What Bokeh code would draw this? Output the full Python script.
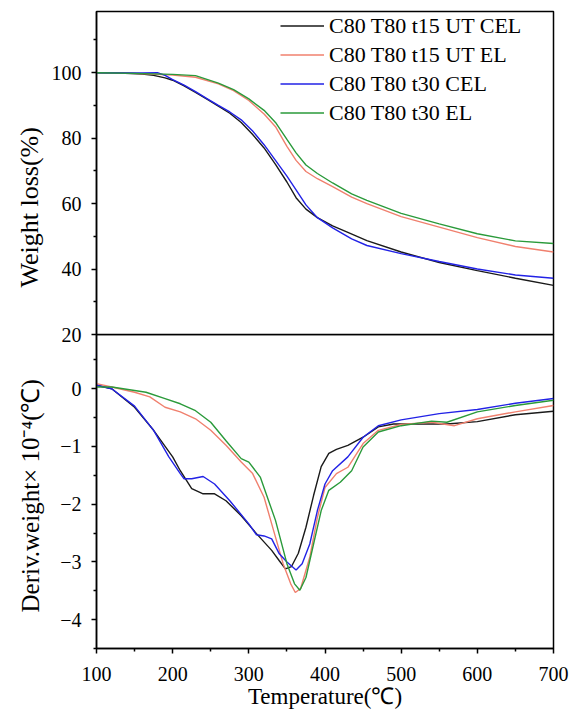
from bokeh.plotting import figure
from bokeh.layouts import column
from bokeh.models import FixedTicker, Title, Range1d
from bokeh.embed import file_html
from bokeh.resources import INLINE

# ---------------- data ----------------
series_names = ["C80 T80 t15 UT CEL", "C80 T80 t15 UT EL", "C80 T80 t30 CEL", "C80 T80 t30 EL"]
series_colors = ["#1a1a1a", "#f0806e", "#2222e6", "#2a9a3a"]

# TG curves: weight loss (%) vs temperature (C)
tg_black_T = [100, 130, 160, 175, 190, 200, 215, 230, 245, 260, 275, 290, 305, 320, 335, 350, 362, 375, 390, 410, 430, 455, 500, 550, 600, 650, 700]
tg_black_W = [100, 99.9, 99.6, 99.2, 98.4, 97.7, 96.0, 94.0, 91.9, 89.8, 87.6, 84.8, 81.1, 77.0, 72.0, 66.6, 61.8, 58.3, 55.7, 53.2, 51.2, 48.7, 45.2, 42.0, 39.5, 37.2, 35.0]

tg_red_T = [100, 150, 200, 230, 260, 280, 300, 320, 335, 350, 362, 375, 390, 410, 435, 455, 500, 550, 600, 650, 700]
tg_red_W = [100, 99.8, 99.3, 98.6, 96.6, 94.5, 91.5, 87.4, 83.5, 77.5, 73.2, 69.8, 67.6, 65.2, 62.0, 60.0, 56.0, 52.8, 49.6, 46.9, 45.2]

tg_blue_T = [100, 130, 160, 180, 190, 200, 215, 230, 245, 260, 275, 290, 305, 320, 335, 350, 362, 375, 390, 410, 435, 455, 500, 550, 600, 650, 700]
tg_blue_W = [100, 99.9, 99.9, 100, 99.2, 97.9, 96.2, 94.2, 92.1, 90.0, 88.0, 85.6, 82.2, 78.0, 73.2, 68.4, 64.2, 59.6, 55.7, 52.6, 49.2, 47.2, 44.7, 42.3, 40.0, 38.2, 37.2]

tg_green_T = [100, 150, 200, 230, 260, 280, 300, 320, 335, 350, 362, 375, 390, 410, 435, 455, 500, 550, 600, 650, 700]
tg_green_W = [100, 99.8, 99.5, 99.1, 96.8, 94.8, 92.0, 88.5, 84.8, 79.6, 75.5, 71.8, 69.2, 66.3, 63.0, 61.0, 57.0, 53.8, 50.8, 48.6, 47.8]

# DTG curves: deriv. weight (x1e-4 / C) vs temperature (C)
dtg_black_T = [100, 120, 150, 175, 200, 210, 225, 240, 255, 270, 290, 310, 330, 340, 348, 356, 365, 375, 385, 395, 405, 415, 430, 450, 470, 490, 520, 560, 600, 650, 700]
dtg_black_V = [0.06, 0.0, -0.32, -0.72, -1.18, -1.42, -1.73, -1.82, -1.82, -1.94, -2.2, -2.51, -2.8, -2.98, -3.12, -3.08, -2.85, -2.4, -1.85, -1.35, -1.12, -1.05, -0.98, -0.84, -0.66, -0.61, -0.61, -0.61, -0.57, -0.45, -0.39]

dtg_red_T = [100, 120, 150, 170, 190, 210, 230, 250, 270, 290, 305, 320, 335, 345, 355, 361, 368, 380, 390, 400, 415, 430, 450, 470, 500, 540, 570, 600, 650, 700]
dtg_red_V = [0.09, 0.03, -0.06, -0.14, -0.32, -0.4, -0.52, -0.72, -0.98, -1.27, -1.47, -1.88, -2.57, -3.03, -3.38, -3.53, -3.46, -2.92, -2.23, -1.71, -1.47, -1.36, -0.95, -0.72, -0.62, -0.58, -0.64, -0.52, -0.4, -0.29]

dtg_blue_T = [100, 120, 150, 175, 195, 210, 215, 225, 240, 255, 275, 300, 310, 320, 330, 340, 350, 362, 370, 380, 390, 400, 410, 430, 450, 470, 500, 550, 600, 650, 700]
dtg_blue_V = [0.06, 0.0, -0.3, -0.72, -1.18, -1.47, -1.56, -1.56, -1.52, -1.65, -1.94, -2.34, -2.53, -2.55, -2.6, -2.86, -3.0, -3.14, -3.03, -2.69, -2.11, -1.65, -1.42, -1.18, -0.84, -0.64, -0.54, -0.43, -0.36, -0.25, -0.17]

dtg_green_T = [100, 120, 150, 165, 190, 210, 230, 250, 270, 290, 300, 315, 335, 350, 360, 367, 375, 385, 395, 405, 420, 435, 450, 470, 500, 540, 560, 600, 650, 700]
dtg_green_V = [0.03, 0.03, -0.03, -0.06, -0.17, -0.26, -0.38, -0.58, -0.9, -1.21, -1.27, -1.53, -2.28, -3.03, -3.38, -3.49, -3.27, -2.69, -2.11, -1.76, -1.62, -1.42, -1.01, -0.75, -0.64, -0.56, -0.58, -0.4, -0.29, -0.2]

x_ticks = [100, 200, 300, 400, 500, 600, 700]
x_minor = [150, 250, 350, 450, 550, 650]
tg_ticks = [20, 40, 60, 80, 100]
tg_minor = [30, 50, 70, 90, 110]
dtg_ticks = [-4, -3, -2, -1, 0]
dtg_minor = [-4.5, -3.5, -2.5, -1.5, -0.5, 0.5]

FONT = "Liberation Serif"

def style_axis(ax, ticks, minor):
    ax.ticker = FixedTicker(ticks=ticks, minor_ticks=minor)
    ax.axis_line_color = "black"
    ax.axis_line_width = 1.5
    ax.major_tick_line_color = "black"
    ax.major_tick_line_width = 1.5
    ax.minor_tick_line_color = "black"
    ax.minor_tick_line_width = 1.5
    ax.major_tick_in = 0
    ax.major_tick_out = 5
    ax.minor_tick_in = 0
    ax.minor_tick_out = 3
    ax.major_label_text_font = FONT
    ax.major_label_text_font_size = "20px"
    ax.major_label_text_color = "black"
    ax.axis_label_text_font = FONT
    ax.axis_label_text_font_style = "normal"
    ax.axis_label_text_color = "black"

# ---------------- top panel (TG) ----------------
p1 = figure(width=569, height=346, output_backend="svg", toolbar_location=None,
            x_range=Range1d(100, 700), y_range=Range1d(20, 118.7),
            x_axis_location=None, min_border_left=91, min_border_right=16,
            min_border_top=11, min_border_bottom=12)
p1.grid.visible = False
p1.outline_line_color = "black"
p1.outline_line_width = 1.5
style_axis(p1.yaxis[0], tg_ticks, tg_minor)
p1.yaxis[0].major_label_standoff = 10
p1.add_layout(Title(text="Weight loss(%)", align="left", offset=47, standoff=9,
                    text_font=FONT, text_font_size="26px", text_font_style="normal",
                    text_color="black"), "left")

tg_T = [tg_black_T, tg_red_T, tg_blue_T, tg_green_T]
tg_W = [tg_black_W, tg_red_W, tg_blue_W, tg_green_W]
for name, col, xs, ys in zip(series_names, series_colors, tg_T, tg_W):
    p1.line(xs, ys, line_color=col, line_width=1.4, legend_label=name)

lg = p1.legend[0]
lg.location = (184, 207)
lg.border_line_alpha = 0
lg.background_fill_alpha = 0
lg.padding = 0
lg.margin = 0
lg.spacing = 0
lg.glyph_width = 44
lg.glyph_height = 29
lg.label_height = 29
lg.label_standoff = 5
lg.label_text_font = FONT
lg.label_text_font_size = "22px"
lg.label_text_color = "black"

# ---------------- bottom panel (DTG) ----------------
p2 = figure(width=569, height=381, output_backend="svg", toolbar_location=None,
            x_range=p1.x_range, y_range=Range1d(-4.5, 0.94),
            min_border_left=91, min_border_right=16, min_border_top=0, min_border_bottom=67,
            margin=(-12, 0, 0, 0))
p2.grid.visible = False
p2.outline_line_color = "black"
p2.outline_line_width = 1.5
p2.background_fill_alpha = 0
p2.border_fill_alpha = 0
style_axis(p2.xaxis[0], x_ticks, x_minor)
p2.xaxis[0].major_label_standoff = 13
p2.xaxis[0].axis_label = "Temperature(℃)"
p2.xaxis[0].axis_label_text_font_size = "23px"
p2.xaxis[0].axis_label_standoff = 0
style_axis(p2.yaxis[0], dtg_ticks, dtg_minor)
p2.yaxis[0].major_label_standoff = 10
p2.add_layout(Title(text="Deriv.weight×  10⁻⁴(℃)", align="left", offset=36, standoff=28,
                    text_font=FONT, text_font_size="25px", text_font_style="normal",
                    text_color="black"), "left")

dtg_T = [dtg_black_T, dtg_red_T, dtg_blue_T, dtg_green_T]
dtg_V = [dtg_black_V, dtg_red_V, dtg_blue_V, dtg_green_V]
for col, xs, ys in zip(series_colors, dtg_T, dtg_V):
    p2.line(xs, ys, line_color=col, line_width=1.4)

layout = column(p1, p2)
open("out.html", "w").write(file_html(layout, INLINE))
